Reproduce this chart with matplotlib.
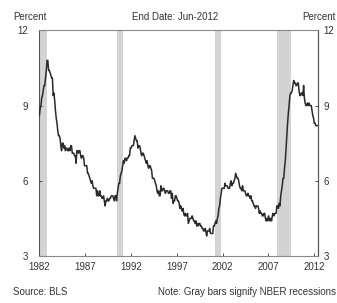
import matplotlib
matplotlib.use("Agg")
import matplotlib.pyplot as plt
import numpy as np

# Monthly unemployment rate (%), Jan-1982 .. Jun-2012
rate_1982_1991 = [
    8.6, 8.9, 9.0, 9.3, 9.4, 9.6, 9.8, 9.8, 10.1, 10.4, 10.8, 10.8,
    10.4, 10.4, 10.3, 10.2, 10.1, 10.1, 9.4, 9.5, 9.2, 8.8, 8.5, 8.3,
    8.0, 7.8, 7.8, 7.7, 7.4, 7.2, 7.5, 7.5, 7.3, 7.4, 7.2, 7.3,
    7.3, 7.2, 7.2, 7.3, 7.2, 7.4, 7.4, 7.1, 7.1, 7.1, 7.0, 7.0,
    6.7, 7.2, 7.2, 7.1, 7.2, 7.2, 7.0, 6.9, 7.0, 7.0, 6.9, 6.6,
    6.6, 6.6, 6.6, 6.3, 6.3, 6.2, 6.1, 6.0, 5.9, 6.0, 5.8, 5.7,
    5.7, 5.7, 5.7, 5.4, 5.6, 5.4, 5.4, 5.6, 5.4, 5.4, 5.3, 5.3,
    5.4, 5.2, 5.0, 5.2, 5.2, 5.3, 5.2, 5.2, 5.3, 5.3, 5.4, 5.4,
    5.4, 5.3, 5.2, 5.4, 5.4, 5.2, 5.5, 5.7, 5.9, 5.9, 6.2, 6.3,
    6.4, 6.6, 6.8, 6.7, 6.9, 6.9, 6.8, 6.9, 6.9, 7.0, 7.0, 7.3,
]
rate_1992_2001 = [
    7.3, 7.4, 7.4, 7.4, 7.6, 7.8, 7.7, 7.6, 7.6, 7.3, 7.4, 7.4,
    7.3, 7.1, 7.0, 7.1, 7.1, 7.0, 6.9, 6.8, 6.7, 6.8, 6.6, 6.5,
    6.6, 6.6, 6.5, 6.4, 6.1, 6.1, 6.1, 6.0, 5.9, 5.8, 5.6, 5.5,
    5.6, 5.4, 5.4, 5.8, 5.6, 5.6, 5.7, 5.7, 5.6, 5.5, 5.6, 5.6,
    5.6, 5.5, 5.5, 5.6, 5.6, 5.3, 5.5, 5.1, 5.2, 5.2, 5.4, 5.4,
    5.3, 5.2, 5.2, 5.1, 4.9, 5.0, 4.9, 4.8, 4.9, 4.7, 4.6, 4.7,
    4.6, 4.6, 4.7, 4.3, 4.4, 4.5, 4.5, 4.5, 4.6, 4.5, 4.4, 4.4,
    4.3, 4.4, 4.2, 4.3, 4.2, 4.3, 4.3, 4.2, 4.2, 4.1, 4.1, 4.0,
    4.0, 4.1, 4.0, 3.8, 4.0, 4.0, 4.0, 4.1, 3.9, 3.9, 3.9, 3.9,
    4.2, 4.2, 4.3, 4.4, 4.3, 4.5, 4.6, 4.9, 5.0, 5.3, 5.5, 5.7,
]
rate_2002_2012 = [
    5.7, 5.7, 5.7, 5.9, 5.8, 5.8, 5.8, 5.7, 5.7, 5.7, 5.9, 6.0,
    5.8, 5.9, 5.9, 6.0, 6.1, 6.3, 6.2, 6.1, 6.1, 6.0, 5.8, 5.7,
    5.7, 5.6, 5.8, 5.6, 5.6, 5.6, 5.5, 5.4, 5.4, 5.5, 5.4, 5.4,
    5.3, 5.4, 5.2, 5.2, 5.1, 5.0, 5.0, 4.9, 5.0, 5.0, 5.0, 4.9,
    4.7, 4.8, 4.7, 4.7, 4.6, 4.6, 4.7, 4.7, 4.5, 4.4, 4.5, 4.4,
    4.6, 4.5, 4.4, 4.5, 4.4, 4.6, 4.7, 4.6, 4.7, 4.7, 4.7, 5.0,
    5.0, 4.9, 5.1, 5.0, 5.4, 5.6, 5.8, 6.1, 6.1, 6.5, 6.8, 7.3,
    7.8, 8.3, 8.7, 9.0, 9.4, 9.5, 9.5, 9.6, 9.8, 10.0, 9.9, 9.9,
    9.8, 9.8, 9.9, 9.9, 9.6, 9.4, 9.4, 9.5, 9.5, 9.4, 9.8, 9.3,
    9.1, 9.0, 9.0, 9.1, 9.0, 9.1, 9.0, 9.0, 9.0, 8.8, 8.6, 8.5,
    8.3, 8.3, 8.2, 8.2, 8.2, 8.2,
]
rate = rate_1982_1991 + rate_1992_2001 + rate_2002_2012
start_year = 1982

# NBER recessions (start year, start month, end year, end month)
recessions = [(1981, 7, 1982, 11), (1990, 7, 1991, 3), (2001, 3, 2001, 11), (2007, 12, 2009, 6)]

x_ticks = [1982, 1987, 1992, 1997, 2002, 2007, 2012]
y_ticks = [3, 6, 9, 12]

plt.rcParams['font.family'] = ['Liberation Sans', 'DejaVu Sans']

fig = plt.figure(figsize=(3.37, 3.03), dpi=100)
ax = fig.add_axes([0.117, 0.155, 0.827, 0.745])

t = start_year + np.arange(len(rate)) / 12.0
for sy, sm, ey, em in recessions:
    ax.axvspan(sy + (sm - 1) / 12, ey + (em - 1) / 12, color='#d3d3d3', lw=0, zorder=1)
ax.plot(t, rate, color='#2a2a2a', lw=1.1, zorder=3)

ax.set_xlim(start_year, t[-1])
ax.set_ylim(3, 12)
ax.set_xticks(x_ticks)
ax.set_xticklabels([str(v) for v in x_ticks])
ax.set_yticks(y_ticks)
ax.set_yticklabels([str(v) for v in y_ticks])
ax.tick_params(axis='x', direction='in', length=2, labelsize=7, colors='#333333', pad=4, width=0.6)
ax.tick_params(axis='y', direction='in', length=2, labelsize=7, colors='#333333', pad=8, width=0.6)

sec = ax.secondary_yaxis('right')
sec.set_yticks(y_ticks)
sec.set_yticklabels([str(v) for v in y_ticks])
sec.tick_params(axis='y', direction='in', length=2, labelsize=7, colors='#333333', pad=4, width=0.6)
sec.spines['right'].set_color('#555555')
sec.spines['right'].set_linewidth(0.8)

for s in ax.spines.values():
    s.set_color('#888888')
    s.set_linewidth(0.8)
ax.spines['left'].set_color('#555555')
ax.spines['right'].set_color('#555555')

fig.text(0.04, 0.945, "Percent", fontsize=7, color='#333333', ha='left', va='center')
fig.text(0.52, 0.945, "End Date: Jun-2012", fontsize=7, color='#333333', ha='center', va='center')
fig.text(0.997, 0.945, "Percent", fontsize=7, color='#333333', ha='right', va='center')
fig.text(0.04, 0.035, "Source: BLS", fontsize=7, color='#333333', ha='left', va='center')
fig.text(0.997, 0.035, "Note: Gray bars signify NBER recessions", fontsize=7, color='#333333',
         ha='right', va='center')

fig.savefig("out.png", dpi=100)
